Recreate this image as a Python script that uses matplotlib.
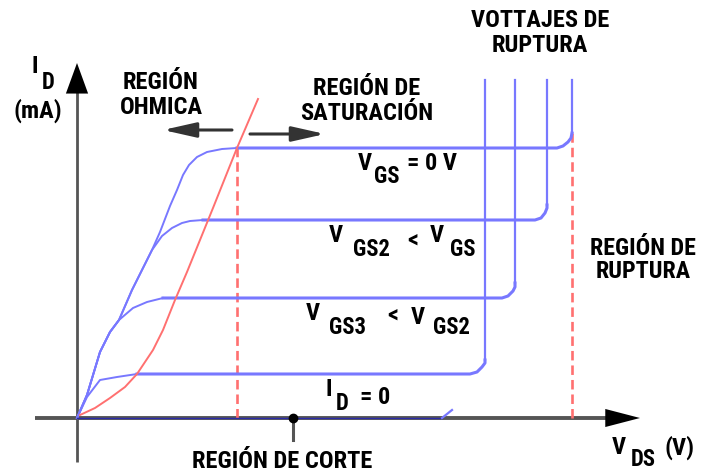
import matplotlib
matplotlib.use('Agg')
import matplotlib.pyplot as plt
from matplotlib import font_manager

# narrow bold face for the labels, if one is available
fonts = font_manager.fontManager.ttflist
names = {f.name for f in fonts}
stretch = 'normal'
if 'Roboto Condensed' in names:
    family, scale = 'Roboto Condensed', 1.3
elif 'Liberation Sans Narrow' in names:
    family, scale = 'Liberation Sans Narrow', 1.2
elif any(f.name == 'DejaVu Sans' and f.stretch == 'condensed' for f in fonts):
    family, scale, stretch = 'DejaVu Sans', 1.08, 'condensed'
else:
    family, scale = 'DejaVu Sans', 1.0
plt.rcParams['font.family'] = [family, 'DejaVu Sans']

BLUE = '#7878ff'
DARKBLUE = '#2a2aa8'
RED = '#ff7070'
GRAY = '#555555'

# ohmic part of each drain curve (V_DS, I_D), origin at the axis corner
ohm_vds_0 = [0, 10, 23, 33, 42, 55, 66, 75, 83, 93, 100, 106, 112, 120, 130, 145, 160]
ohm_id_0 = [0, 23, 66, 86, 98, 128, 150, 168, 186, 212, 228, 243, 253, 261, 266, 269, 270]
ohm_vds_1 = [0, 10, 23, 33, 42, 55, 66, 75, 85, 95, 105, 113, 126]
ohm_id_1 = [0, 23, 66, 86, 98, 128, 150, 168, 182, 190, 195, 197, 198]
ohm_vds_2 = [0, 10, 23, 33, 42, 56, 70, 86]
ohm_id_2 = [0, 23, 66, 86, 98, 110, 116, 120]
ohm_vds_3 = [0, 10, 23, 40, 60]
ohm_id_3 = [0, 21, 38, 41, 44]

# saturation plateau and breakdown knee of each curve
sat_vds_0 = [160, 480, 486, 491, 494, 495]
sat_id_0 = [270, 270, 272, 276, 280, 285]
sat_vds_1 = [126, 458, 464, 468, 470, 470]
sat_id_1 = [198, 198, 200, 205, 210, 213]
sat_vds_2 = [86, 425, 431, 436, 438, 438]
sat_id_2 = [120, 120, 122, 127, 131, 135]
sat_vds_3 = [60, 393, 400, 405, 408, 408]
sat_id_3 = [44, 44, 46, 51, 55, 58]

# top of the vertical breakdown lines
id_top = 338

# cut-off curve (I_D = 0)
cut_vds = [0, 365]
cut_id = [0, 0]
cut_tail_vds = [365, 375]
cut_tail_id = [0, 8]

# pinch-off locus
pinch_vds = [3, 18, 33, 48, 60, 76, 86, 98, 110, 123, 136, 160, 181]
pinch_id = [3, 10, 20, 31, 44, 68, 88, 118, 146, 178, 210, 270, 319]

# region limits (dashed)
lim_vds = [160, 495]
lim_id = [270, 285]

fig = plt.figure(figsize=(7.01, 4.74), dpi=100)
ax = fig.add_axes([0, 0, 1, 1])
ax.set_xlim(-77, 624)
ax.set_ylim(-56, 418)
ax.axis('off')

# axes with arrow heads
ax.plot([-42, 530], [0, 0], color=GRAY, lw=2.8, solid_capstyle='butt', zorder=1)
ax.plot([0, 0], [-44, 327], color=GRAY, lw=2.0, solid_capstyle='butt', zorder=1)
ax.annotate('', xy=(563, 0), xytext=(520, 0),
            arrowprops=dict(arrowstyle='-|>,head_length=25,head_width=6.5',
                            mutation_scale=1, color='black', lw=0,
                            shrinkA=0, shrinkB=0))
ax.annotate('', xy=(0, 355), xytext=(0, 315),
            arrowprops=dict(arrowstyle='-|>,head_length=22,head_width=8',
                            mutation_scale=1, color='black', lw=0,
                            shrinkA=0, shrinkB=0))

# dashed region limits
for v, top in zip(lim_vds, lim_id):
    ax.plot([v, v], [0, top], color=RED, lw=1.9, dashes=(3.6, 1.9), zorder=2)

for v, i in [(ohm_vds_0, ohm_id_0), (ohm_vds_1, ohm_id_1),
             (ohm_vds_2, ohm_id_2), (ohm_vds_3, ohm_id_3)]:
    ax.plot(v, i, color=BLUE, lw=1.4, zorder=3)
for v, i in [(sat_vds_0, sat_id_0), (sat_vds_1, sat_id_1),
             (sat_vds_2, sat_id_2), (sat_vds_3, sat_id_3)]:
    ax.plot(v, i, color=BLUE, lw=2.2, zorder=3)
    # breakdown: straight up from the knee
    ax.plot([v[-1], v[-1]], [i[-1], id_top], color=BLUE, lw=1.6, zorder=2.5)

ax.plot(cut_vds, cut_id, color=DARKBLUE, lw=1.0, zorder=4)
ax.plot(cut_tail_vds, cut_tail_id, color=BLUE, lw=1.6, zorder=4)

ax.plot(pinch_vds, pinch_id, color=RED, lw=1.4, zorder=3)

# region arrows
ax.annotate('', xy=(86, 288), xytext=(155, 288),
            arrowprops=dict(arrowstyle='-|>,head_length=20,head_width=4.5',
                            mutation_scale=1, color='#333333', lw=2.2,
                            shrinkA=0, shrinkB=0))
ax.annotate('', xy=(248, 284), xytext=(173, 284),
            arrowprops=dict(arrowstyle='-|>,head_length=20,head_width=4.5',
                            mutation_scale=1, color='#333333', lw=2.2,
                            shrinkA=0, shrinkB=0))

# cut-off marker
ax.plot([216, 216], [0, -22], color=GRAY, lw=2.2, zorder=4)
ax.plot([216], [0], 'o', color='black', ms=6, zorder=5)

fs = 13.5 * scale
sub = 12.5 * scale
kw = dict(fontweight='bold', fontstretch=stretch, color='black',
          ha='center', va='center')

ax.text(-42, 352, 'I', fontsize=fs, **kw)
ax.text(-29, 336, 'D', fontsize=sub, **kw)
ax.text(-39, 307, '(mA)', fontsize=fs, **kw)

ax.text(84, 323, 'REGIÓN\nOHMICA', fontsize=fs, linespacing=1.1, **kw)
ax.text(290, 317, 'REGIÓN DE\nSATURACIÓN', fontsize=fs, linespacing=1.15, **kw)
ax.text(463, 385, 'VOTTAJES DE\nRUPTURA', fontsize=fs, linespacing=1.1, **kw)
ax.text(566, 158, 'REGIÓN DE\nRUPTURA', fontsize=13.3 * scale, linespacing=1.05, **kw)
ax.text(205, -43, 'REGIÓN DE CORTE', fontsize=fs, **kw)

# V_GS = 0 V
ax.text(288, 255, 'V', fontsize=fs, **kw)
ax.text(310, 242, 'GS', fontsize=sub, **kw)
ax.text(355, 255, '= 0 V', fontsize=fs, **kw)
# V_GS2 < V_GS
ax.text(259, 183, 'V', fontsize=fs, **kw)
ax.text(294, 168, 'GS2', fontsize=sub, **kw)
ax.text(336, 178, '<', fontsize=fs, **kw)
ax.text(360, 183, 'V', fontsize=fs, **kw)
ax.text(386, 168, 'GS', fontsize=sub, **kw)
# V_GS3 < V_GS2
ax.text(236, 104, 'V', fontsize=fs, **kw)
ax.text(270, 91, 'GS3', fontsize=sub, **kw)
ax.text(316, 103, '<', fontsize=fs, **kw)
ax.text(341, 100, 'V', fontsize=fs, **kw)
ax.text(374, 91, 'GS2', fontsize=sub, **kw)
# I_D = 0
ax.text(252, 28, 'I', fontsize=fs, **kw)
ax.text(265, 15, 'D', fontsize=sub, **kw)
ax.text(298, 20, '= 0', fontsize=fs, **kw)
# V_DS (V)
ax.text(542, -29, 'V', fontsize=fs, **kw)
ax.text(566, -42, 'DS', fontsize=sub, **kw)
ax.text(602, -30, '(V)', fontsize=fs, **kw)

fig.savefig('out.png', dpi=100)
